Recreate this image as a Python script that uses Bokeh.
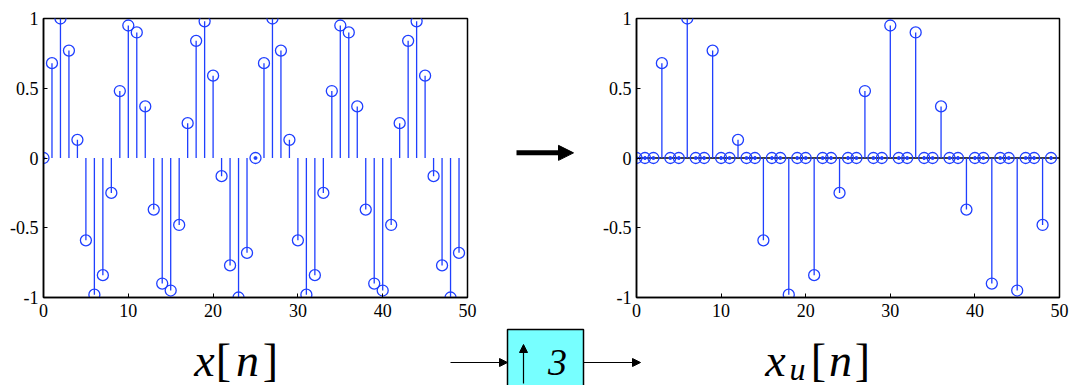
from bokeh.plotting import figure
from bokeh.layouts import column, row
from bokeh.models import Range1d, FixedTicker, Arrow, NormalHead, Span
from bokeh.embed import file_html
from bokeh.resources import INLINE
from bokeh.core.properties import value

# ---------------- data ----------------
n = list(range(50))
x_vals = [0.00, 0.68, 1.00, 0.77, 0.13, -0.59, -0.98, -0.84, -0.25, 0.48,
          0.95, 0.90, 0.37, -0.37, -0.90, -0.95, -0.48, 0.25, 0.84, 0.98,
          0.59, -0.13, -0.77, -1.00, -0.68,
          0.00, 0.68, 1.00, 0.77, 0.13, -0.59, -0.98, -0.84, -0.25, 0.48,
          0.95, 0.90, 0.37, -0.37, -0.90, -0.95, -0.48, 0.25, 0.84, 0.98,
          0.59, -0.13, -0.77, -1.00, -0.68]
xu_vals = [0.00, 0, 0, 0.68, 0, 0, 1.00, 0, 0, 0.77,
           0, 0, 0.13, 0, 0, -0.59, 0, 0, -0.98, 0,
           0, -0.84, 0, 0, -0.25, 0, 0, 0.48, 0, 0,
           0.95, 0, 0, 0.90, 0, 0, 0.37, 0, 0, -0.37,
           0, 0, -0.90, 0, 0, -0.95, 0, 0, -0.48, 0]
x_ticks = [0, 10, 20, 30, 40, 50]
x_tick_labels = ["0", "10", "20", "30", "40", "50"]
y_ticks = [-1, -0.5, 0, 0.5, 1]
y_tick_labels = ["-1", "-0.5", "0", "0.5", "1"]

BLUE = "#1f3fff"
FONT = "'Liberation Serif', 'Times New Roman', serif"
TOP_H = 326


def stem_fig(vals, width, bl, br, baseline):
    p = figure(width=width, height=TOP_H, x_range=Range1d(0, 50), y_range=Range1d(-1, 1),
               output_backend="svg", toolbar_location=None,
               min_border_left=bl, min_border_right=br, min_border_top=18, min_border_bottom=29)
    p.grid.visible = False
    p.outline_line_color = "black"
    p.outline_line_width = 1.5
    p.outline_line_alpha = 1
    p.xaxis.ticker = FixedTicker(ticks=x_ticks)
    p.xaxis.major_label_overrides = dict(zip(x_ticks, x_tick_labels))
    p.yaxis.ticker = FixedTicker(ticks=y_ticks)
    p.yaxis.major_label_overrides = dict(zip(y_ticks, y_tick_labels))
    for ax in (p.xaxis[0], p.yaxis[0]):
        ax.axis_line_width = 1.5
        ax.axis_line_color = "black"
        ax.major_tick_in = 4
        ax.major_tick_out = 0
        ax.minor_tick_in = 0
        ax.minor_tick_out = 0
        ax.major_tick_line_color = "black"
        ax.major_label_text_font = FONT
        ax.major_label_text_font_size = "18px"
        ax.major_label_text_color = "black"
    p.xaxis.major_label_standoff = 6
    p.yaxis.major_label_standoff = 5
    if baseline:
        p.add_layout(Span(location=0, dimension="width", line_color="black",
                          line_width=1.5, level="underlay"))
    zeros = [0] * len(vals)
    p.segment(x0=n, y0=zeros, x1=n, y1=vals, line_color=BLUE, line_width=1.3)
    p.scatter(x=n, y=vals, marker="circle", size=11, fill_color=None,
              line_color=BLUE, line_width=1.3)
    zn = [i for i, v in zip(n, vals) if v == 0]
    zv = [0 for _ in zn]
    p.scatter(x=zn, y=zv, marker="circle", size=3, fill_color=BLUE, line_color=BLUE)
    return p


left = stem_fig(x_vals, 490, 43, 23, False)
right = stem_fig(xu_vals, 481, 46, 12, True)

# middle arrow
mid = figure(width=100, height=TOP_H, x_range=Range1d(0, 100), y_range=Range1d(TOP_H, 0),
             output_backend="svg", toolbar_location=None, min_border=0,
             x_axis_location=None, y_axis_location=None)
mid.grid.visible = False
mid.outline_line_color = None
mid.add_layout(Arrow(end=NormalHead(size=15, fill_color="black", line_color="black"),
                     x_start=26, y_start=157, x_end=83, y_end=157,
                     line_width=5, line_color="black"))

# bottom block diagram
BH = 59
bot = figure(width=1071, height=BH, x_range=Range1d(0, 1071), y_range=Range1d(BH, 0),
             output_backend="svg", toolbar_location=None, min_border=0,
             x_axis_location=None, y_axis_location=None)
bot.grid.visible = False
bot.outline_line_color = None


def txt(x, y, s, size, italic):
    bot.text(x=[x], y=[y], text=[s], text_font=value(FONT), text_font_size=size,
             text_font_style="italic" if italic else "normal", text_align="center",
             text_baseline="alphabetic", text_color="black")


txt(204, 34, "x", "46px", True)
txt(223, 34, "[", "46px", False)
txt(247, 34, "n", "46px", True)
txt(270, 34, "]", "46px", False)

txt(775, 34, "x", "46px", True)
txt(797, 42, "u", "32px", True)
txt(818, 34, "[", "46px", False)
txt(840, 34, "n", "46px", True)
txt(862, 34, "]", "46px", False)

bot.quad(left=[507], right=[583], top=[3], bottom=[70], fill_color="#77ffff",
         line_color="black", line_width=1.5)
bot.add_layout(Arrow(end=NormalHead(size=8, fill_color="black", line_color="black"),
                     x_start=450, y_start=36, x_end=507, y_end=36,
                     line_width=1.2, line_color="black"))
bot.add_layout(Arrow(end=NormalHead(size=8, fill_color="black", line_color="black"),
                     x_start=583, y_start=36, x_end=640, y_end=36,
                     line_width=1.2, line_color="black"))
bot.add_layout(Arrow(end=NormalHead(size=8, fill_color="black", line_color="black"),
                     x_start=523, y_start=57, x_end=523, y_end=18,
                     line_width=1.2, line_color="black"))
txt(557, 36, "3", "38px", True)

layout = column(row(left, mid, right), bot)
open("out.html", "w").write(file_html(layout, INLINE))
